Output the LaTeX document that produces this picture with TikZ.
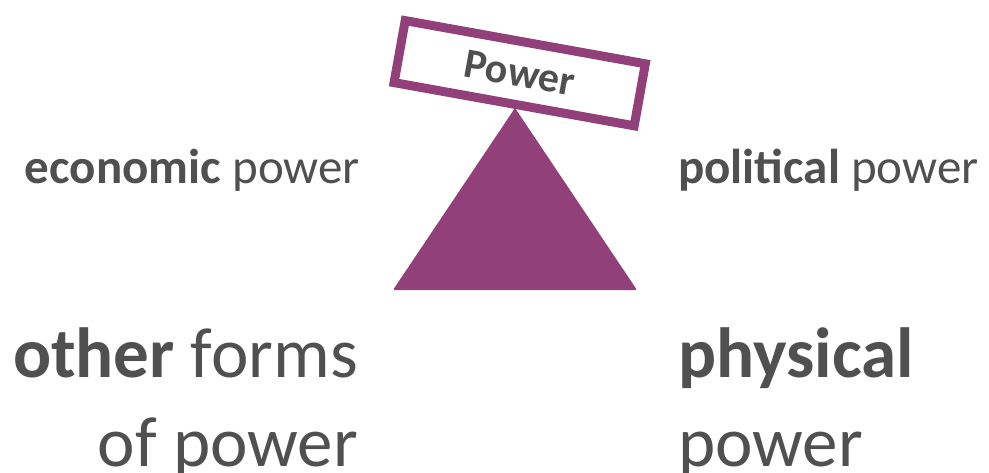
\documentclass[tikz,border=0pt]{standalone}
\usepackage{fontspec}
\setmainfont{Carlito}
\definecolor{plum}{HTML}{91407A}
\definecolor{txt}{HTML}{505050}
\begin{document}
\begin{tikzpicture}[x=1pt,y=-1pt,
  lbl/.style={text=txt,inner sep=0pt,font=\fontsize{49}{58}\selectfont},
  big/.style={text=txt,inner sep=0pt,font=\fontsize{71}{85}\selectfont}]
\useasboundingbox (0,0) rectangle (989,472);
\fill[plum,rounded corners=1.5pt] (515,108) -- (393,290) -- (637,290) -- cycle;
\node[draw=plum,line width=9pt,fill=white,minimum width=244pt,minimum height=63pt,inner sep=0pt,rotate=-10.2,text=txt,font=\bfseries\fontsize{42}{46}\selectfont] (box) at (519.7,73.2) {Power};
\node[lbl,anchor=base east] (eco) at (360,183) {\textbf{economic} power};
\node[lbl,anchor=base west] (pol) at (678,183) {\textbf{political} power};
\node[big,anchor=base east] (oth) at (358,377) {\textbf{other} forms};
\node[big,anchor=base east] (ofp) at (358,466) {of power};
\node[big,anchor=base west] (phy) at (678,377) {\textbf{physical}};
\node[big,anchor=base west] (pow) at (678,466) {power};
\end{tikzpicture}
\end{document}
